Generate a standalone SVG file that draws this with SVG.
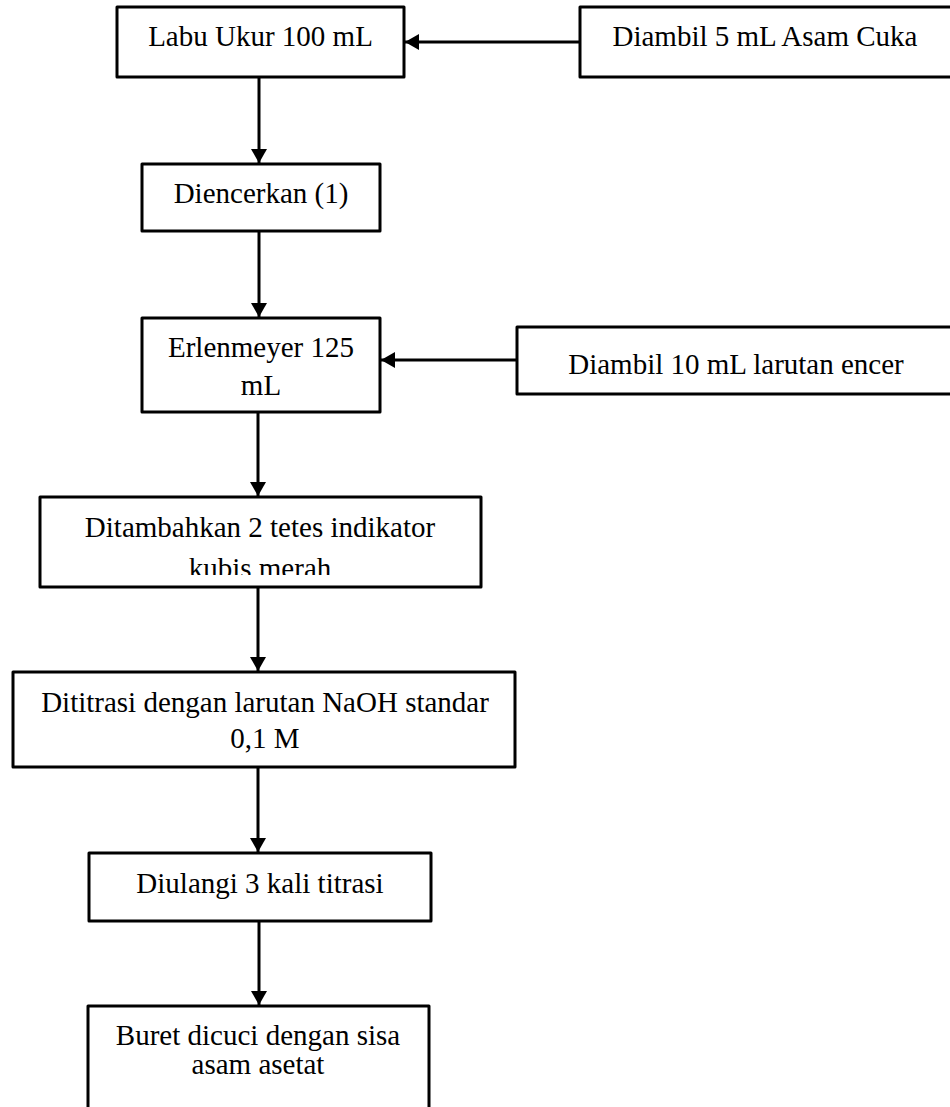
<svg xmlns="http://www.w3.org/2000/svg" width="950" height="1107" viewBox="0 0 950 1107">
<style>
.box{fill:#fff;stroke:#000;stroke-width:3;stroke-linejoin:round}
.t{font-family:"Liberation Serif","Times New Roman",serif;font-size:29px;fill:#000;text-anchor:middle}
.c{stroke:#000;stroke-width:3;fill:none}
</style>
<defs>
<marker id="ah" markerUnits="userSpaceOnUse" markerWidth="16" markerHeight="16" viewBox="0 0 14 16" refX="14" refY="8" orient="auto">
<path d="M0,0 L14,8 L0,16 Z" fill="#000"/>
</marker>
<clipPath id="clip6"><rect x="40" y="497" width="441" height="78"/></clipPath>
</defs>
<rect width="950" height="1107" fill="#fff"/>
<g id="n1"><rect class="box" x="117" y="7" width="287" height="70"/><text class="t" x="260.5" y="46">Labu Ukur 100 mL</text></g>
<g id="n2"><rect class="box" x="580" y="7" width="390" height="70"/><text class="t" x="765" y="46">Diambil 5 mL Asam Cuka</text></g>
<g id="n3"><rect class="box" x="142" y="164" width="238" height="67"/><text class="t" x="261" y="203">Diencerkan (1)</text></g>
<g id="n4"><rect class="box" x="142" y="318" width="238" height="94"/><text class="t" x="261" y="357">Erlenmeyer 125</text><text class="t" x="261" y="395">mL</text></g>
<g id="n5"><rect class="box" x="517" y="327" width="450" height="67"/><text class="t" x="736" y="374">Diambil 10 mL larutan encer</text></g>
<g id="n6"><rect class="box" x="40" y="497" width="441" height="90"/><g clip-path="url(#clip6)"><text class="t" x="260" y="537">Ditambahkan 2 tetes indikator</text><text class="t" x="260" y="578">kubis merah</text></g></g>
<g id="n7"><rect class="box" x="13" y="672" width="502" height="95"/><text class="t" x="265" y="712">Dititrasi dengan larutan NaOH standar</text><text class="t" x="265" y="748">0,1 M</text></g>
<g id="n8"><rect class="box" x="89" y="853" width="342" height="68"/><text class="t" x="260" y="893">Diulangi 3 kali titrasi</text></g>
<g id="n9"><rect class="box" x="88" y="1006" width="341" height="130"/><text class="t" x="258" y="1045">Buret dicuci dengan sisa</text><text class="t" x="258" y="1074">asam asetat</text></g>
<g id="connectors">
<line class="c" x1="580" y1="42" x2="405" y2="42" marker-end="url(#ah)"/>
<line class="c" x1="259" y1="77" x2="259" y2="163" marker-end="url(#ah)"/>
<line class="c" x1="259" y1="231" x2="259" y2="317" marker-end="url(#ah)"/>
<line class="c" x1="517" y1="360" x2="381" y2="360" marker-end="url(#ah)"/>
<line class="c" x1="258" y1="412" x2="258" y2="496" marker-end="url(#ah)"/>
<line class="c" x1="258" y1="587" x2="258" y2="671" marker-end="url(#ah)"/>
<line class="c" x1="258" y1="767" x2="258" y2="852" marker-end="url(#ah)"/>
<line class="c" x1="259" y1="921" x2="259" y2="1005" marker-end="url(#ah)"/>
</g>
</svg>
